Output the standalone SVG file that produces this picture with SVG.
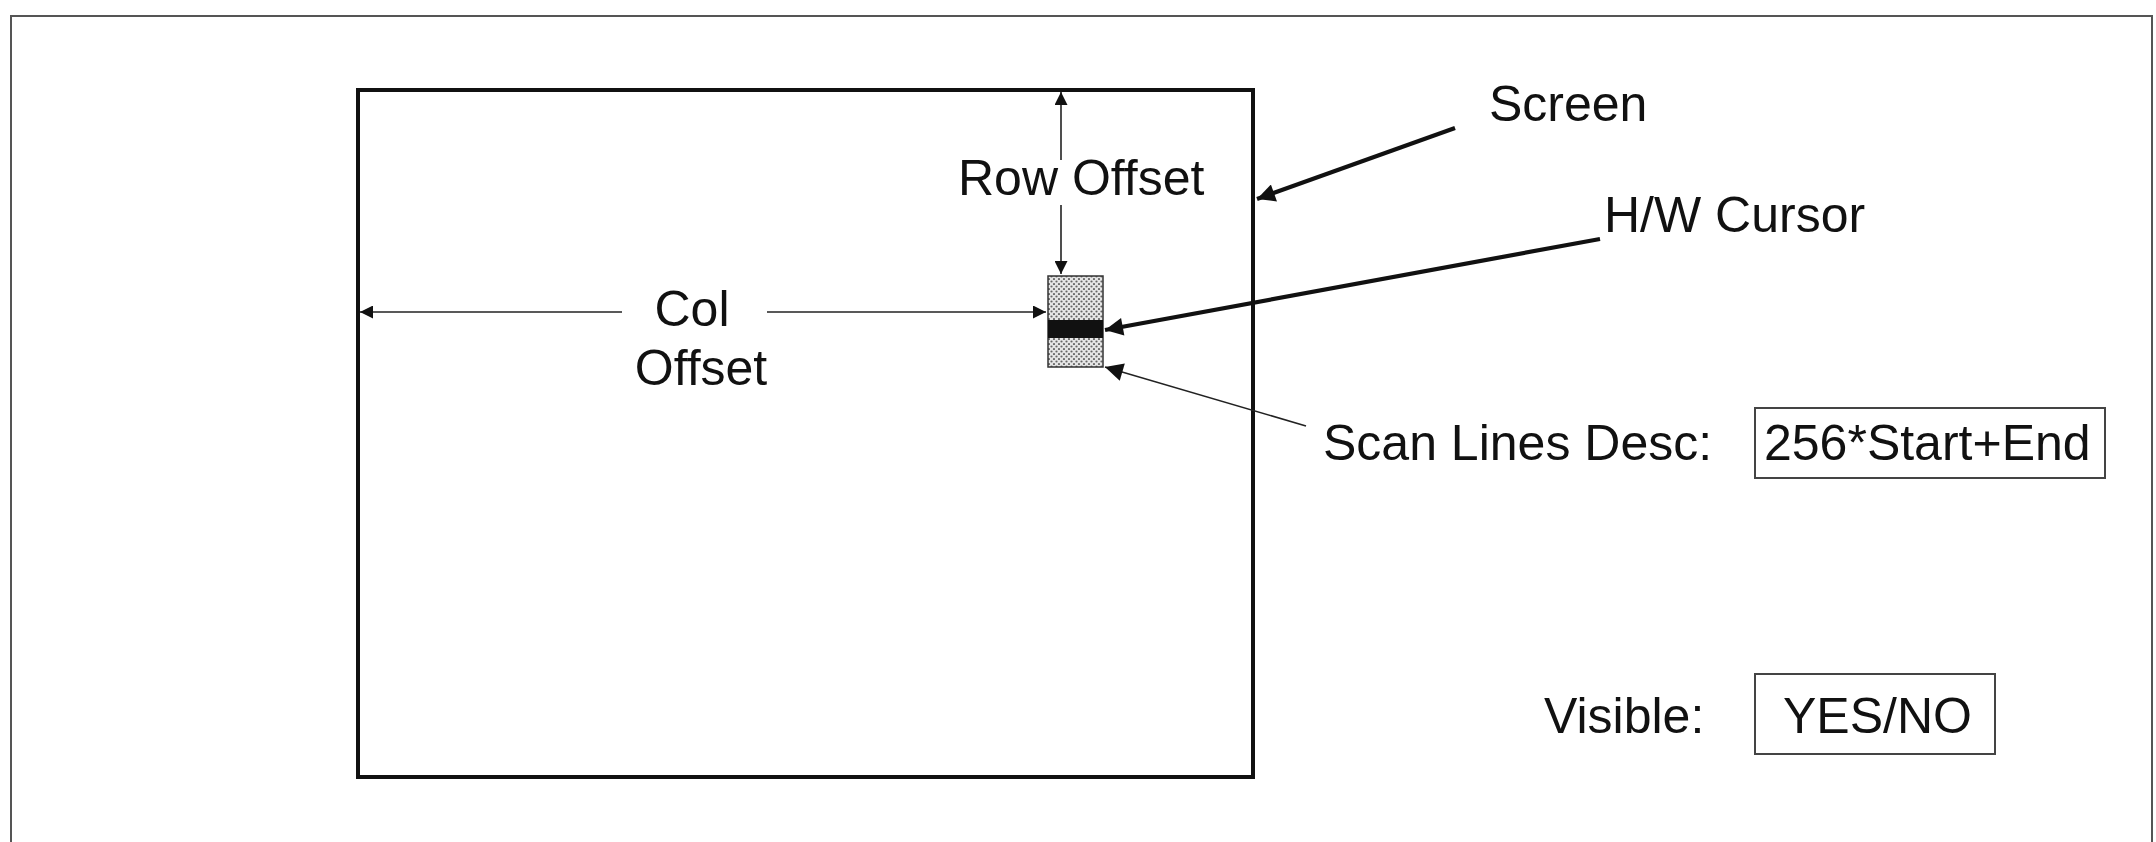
<svg xmlns="http://www.w3.org/2000/svg" width="2156" height="842" viewBox="0 0 2156 842">
<style>
text{font-family:"Liberation Sans",Arial,Helvetica,sans-serif;font-size:50px;fill:#111}
.thin{stroke:#222;stroke-width:1.6;fill:none}
.thick{stroke:#111;stroke-width:4.2;fill:none}
.box{stroke:#444;stroke-width:2;fill:none}
</style>
<defs>
<marker id="ah" viewBox="0 0 10 10" refX="10" refY="5" markerWidth="18" markerHeight="13" markerUnits="userSpaceOnUse" orient="auto">
<path d="M0,0 L10,5 L0,10 z" fill="#111"/>
</marker>
<marker id="ahb" viewBox="0 0 10 10" refX="10" refY="5" markerWidth="24" markerHeight="18" markerUnits="userSpaceOnUse" orient="auto">
<path d="M0,0 L10,5 L0,10 z" fill="#111"/>
</marker>
<pattern id="dots" width="5" height="5" patternUnits="userSpaceOnUse">
<rect width="5" height="5" fill="#e6e6e6"/>
<circle cx="1.5" cy="1.5" r="1.1" fill="#666"/>
<circle cx="4" cy="4" r="1.1" fill="#666"/>
</pattern>
</defs>
<rect width="2156" height="842" fill="#fff"/>
<path d="M11,842 V16 H2152 V842" fill="none" stroke="#555" stroke-width="2"/>

<g id="screen">
<rect x="358" y="90" width="895" height="687" fill="none" stroke="#111" stroke-width="4"/>
</g>

<g id="cursor">
<rect x="1048" y="276" width="55" height="91" fill="url(#dots)" stroke="#333" stroke-width="1.5"/>
<rect x="1048" y="320" width="55" height="18" fill="#111"/>
</g>

<g id="labels">
<text x="958" y="195">Row Offset</text>
<text x="692" y="326" text-anchor="middle">Col</text>
<text x="701" y="385" text-anchor="middle">Offset</text>
<text x="1489" y="121">Screen</text>
<text x="1604" y="232">H/W Cursor</text>
<text x="1323" y="460">Scan Lines Desc:</text>
<text x="1544" y="733">Visible:</text>
</g>

<g id="scanlines-box">
<rect x="1755" y="408" width="350" height="70" class="box"/>
<text x="1764" y="460">256*Start+End</text>
</g>

<g id="visible-box">
<rect x="1755" y="674" width="240" height="80" class="box"/>
<text x="1783" y="733">YES/NO</text>
</g>

<g id="connectors">
<line x1="1061" y1="160" x2="1061" y2="92" class="thin" marker-end="url(#ah)"/>
<line x1="1061" y1="205" x2="1061" y2="274" class="thin" marker-end="url(#ah)"/>
<line x1="622" y1="312" x2="360" y2="312" class="thin" marker-end="url(#ah)"/>
<line x1="767" y1="312" x2="1046" y2="312" class="thin" marker-end="url(#ah)"/>
<line x1="1455" y1="128" x2="1257" y2="199" class="thick" marker-end="url(#ahb)"/>
<line x1="1600" y1="239" x2="1105" y2="330" class="thick" marker-end="url(#ahb)"/>
<line x1="1306" y1="426" x2="1105" y2="367" class="thin" marker-end="url(#ahb)"/>
</g>
</svg>
